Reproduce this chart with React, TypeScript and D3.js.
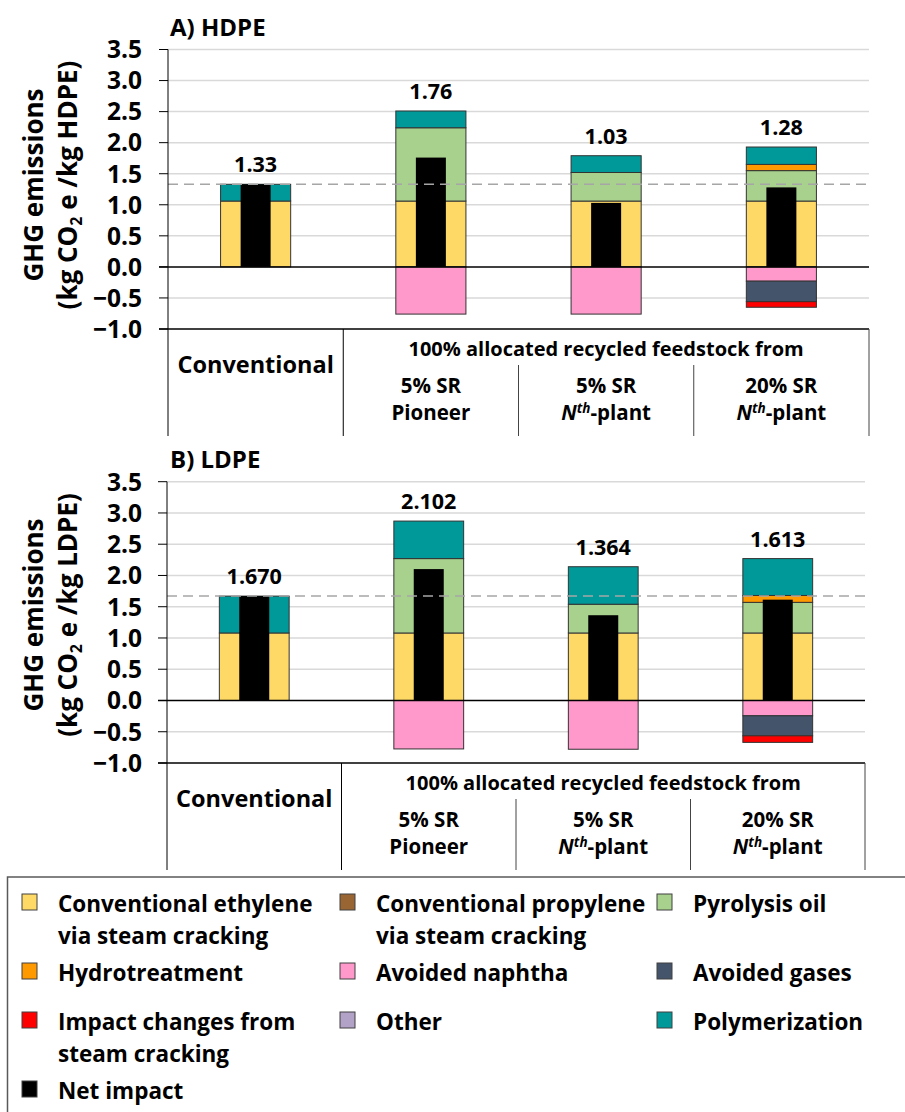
import React from "react";
import * as d3 from "d3";

// ---------- data ----------
const categories = ["Conventional", "5% SR Pioneer", "5% SR Nth-plant", "20% SR Nth-plant"];
const yTicks = [-1, -0.5, 0, 0.5, 1, 1.5, 2, 2.5, 3, 3.5];
const stackKeys = ["ethylene", "propylene", "pyrolysis", "hydro", "polymerization", "naphtha", "gases", "impact", "other"];

// HDPE (kg CO2e / kg HDPE)
const hdpeEthylene = [1.06, 1.06, 1.06, 1.06];
const hdpePropylene = [0, 0, 0, 0];
const hdpePyrolysis = [0, 1.18, 0.46, 0.49];
const hdpeHydro = [0, 0, 0, 0.1];
const hdpePolymerization = [0.27, 0.27, 0.27, 0.28];
const hdpeNaphtha = [0, -0.76, -0.76, -0.23];
const hdpeGases = [0, 0, 0, -0.33];
const hdpeImpact = [0, 0, 0, -0.09];
const hdpeOther = [0, 0, 0, 0];
const hdpeNet = [1.33, 1.76, 1.03, 1.28];

// LDPE (kg CO2e / kg LDPE)
const ldpeEthylene = [1.08, 1.08, 1.08, 1.08];
const ldpePropylene = [0, 0, 0, 0];
const ldpePyrolysis = [0, 1.19, 0.46, 0.49];
const ldpeHydro = [0, 0, 0, 0.11];
const ldpePolymerization = [0.59, 0.6, 0.6, 0.59];
const ldpeNaphtha = [0, -0.775, -0.78, -0.245];
const ldpeGases = [0, 0, 0, -0.32];
const ldpeImpact = [0, 0, 0, -0.105];
const ldpeOther = [0, 0, 0, 0];
const ldpeNet = [1.67, 2.102, 1.364, 1.613];

const legendLabels = [
  ["Conventional ethylene", "via steam cracking"],
  ["Conventional propylene", "via steam cracking"],
  ["Pyrolysis oil"],
  ["Hydrotreatment"],
  ["Avoided naphtha"],
  ["Avoided gases"],
  ["Impact changes from", "steam cracking"],
  ["Other"],
  ["Polymerization"],
  ["Net impact"],
];
const legendColors = ["#FFD966", "#996633", "#A9D18E", "#FF9900", "#FF99CC", "#44546A", "#FF0000", "#B3A2C7", "#009999", "#000000"];

const seriesColor: Record<string, string> = {
  ethylene: "#FFD966",
  propylene: "#996633",
  pyrolysis: "#A9D18E",
  hydro: "#FF9900",
  polymerization: "#009999",
  naphtha: "#FF99CC",
  gases: "#44546A",
  impact: "#FF0000",
  other: "#B3A2C7",
};

const FONT = "'Open Sans', sans-serif";

function buildRows(cols: number[][]) {
  return categories.map((c, i) => {
    const r: any = { cat: c };
    stackKeys.forEach((k, j) => (r[k] = cols[j][i]));
    return r;
  });
}

type PanelProps = {
  title: string;
  unit: string;
  rows: any[];
  net: number[];
  fmt: string;
  left: number;
  right: number;
  yBottom: number;
  yTop: number;
  titleY: number;
  labelCY: number;
};

function Panel(p: PanelProps) {
  const y = d3.scaleLinear().domain([-1, 3.5]).range([p.yBottom, p.yTop]);
  const x = d3
    .scaleBand<string>()
    .domain(categories)
    .range([p.left, p.right])
    .paddingInner(0.6)
    .paddingOuter(0.3);
  const step = x.step();
  const stack = d3
    .stack<any>()
    .keys(stackKeys)
    .offset(d3.stackOffsetDiverging)(p.rows);
  const format = d3.format(p.fmt);
  const netW = 30;
  const tableTop = y(-1);
  const b1 = p.left + step;
  const b2 = p.left + 2 * step;
  const b3 = p.left + 3 * step;
  const recyCx = (b1 + p.right) / 2;

  return (
    <g>
      <text x={170} y={p.titleY} fontFamily={FONT} fontWeight={700} fontSize={24} fill="#000">
        {p.title}
      </text>
      {/* y label */}
      <text
        transform={`translate(43,${p.labelCY}) rotate(-90)`}
        textAnchor="middle"
        fontFamily={FONT}
        fontWeight={700}
        fontSize={26}
      >
        GHG emissions
      </text>
      <text
        transform={`translate(77,${p.labelCY}) rotate(-90)`}
        textAnchor="middle"
        fontFamily={FONT}
        fontWeight={700}
        fontSize={26}
      >
        <tspan>(kg CO</tspan>
        <tspan fontSize={16} dy={5}>2</tspan>
        <tspan dy={-5}>{` e /kg ${p.unit})`}</tspan>
      </text>
      {/* grid */}
      {yTicks
        .filter((t) => t !== 0 && t !== -1)
        .map((t) => (
          <line key={t} x1={p.left} x2={p.right} y1={y(t)} y2={y(t)} stroke="#D9D9D9" strokeWidth={1.5} />
        ))}
      {/* ticks + labels */}
      {yTicks.map((t) => (
        <g key={"t" + t}>
          <line x1={p.left - 9} x2={p.left} y1={y(t)} y2={y(t)} stroke="#000" strokeWidth={1} />
          <text
            x={142}
            y={y(t)}
            dy="0.36em"
            textAnchor="end"
            fontFamily={FONT}
            fontWeight={700}
            fontSize={24.5}
          >
            {d3.format(".1f")(t)}
          </text>
        </g>
      ))}
      {/* stacked bars */}
      {stack.map((s) =>
        s.map((d, i) => {
          const v = d[1] - d[0];
          if (Math.abs(v) < 1e-9) return null;
          const cat = categories[i];
          const y0 = y(Math.max(d[0], d[1]));
          const y1 = y(Math.min(d[0], d[1]));
          return (
            <rect
              key={s.key + cat}
              x={x(cat)}
              y={y0}
              width={x.bandwidth()}
              height={y1 - y0}
              fill={seriesColor[s.key]}
              stroke="#333"
              strokeWidth={1}
            />
          );
        })
      )}
      {/* net impact */}
      {categories.map((c, i) => (
        <rect
          key={"net" + c}
          x={(x(c) as number) + x.bandwidth() / 2 - netW / 2}
          y={y(p.net[i])}
          width={netW}
          height={y(0) - y(p.net[i])}
          fill="#000"
        />
      ))}
      {/* value labels */}
      {categories.map((c, i) => {
        const top = d3.sum(stackKeys.map((k) => Math.max(0, p.rows[i][k])));
        return (
          <text
            key={"lab" + c}
            x={(x(c) as number) + x.bandwidth() / 2}
            y={y(top) - 12}
            textAnchor="middle"
            fontFamily={FONT}
            fontWeight={700}
            fontSize={21.5}
          >
            {format(p.net[i])}
          </text>
        );
      })}
      {/* zero line */}
      <line x1={p.left - 9} x2={p.right} y1={y(0)} y2={y(0)} stroke="#000" strokeWidth={1.5} />
      {/* reference dashed line */}
      <line
        x1={p.left}
        x2={p.right}
        y1={y(p.net[0])}
        y2={y(p.net[0])}
        stroke="#A6A6A6"
        strokeWidth={1.5}
        strokeDasharray="10,6"
      />
      {/* axis */}
      <line x1={p.left} x2={p.left} y1={p.yTop} y2={tableTop + 107} stroke="#000" strokeWidth={1} />
      <line x1={p.left - 9} x2={p.right} y1={tableTop} y2={tableTop} stroke="#000" strokeWidth={1.5} />
      {/* category table */}
      <line x1={b1} x2={b1} y1={tableTop} y2={tableTop + 107} stroke="#000" strokeWidth={1} />
      <line x1={p.right} x2={p.right} y1={tableTop} y2={tableTop + 107} stroke="#444" strokeWidth={1} />
      <line x1={b2} x2={b2} y1={tableTop + 36} y2={tableTop + 107} stroke="#444" strokeWidth={1} />
      <line x1={b3} x2={b3} y1={tableTop + 36} y2={tableTop + 107} stroke="#444" strokeWidth={1} />
      <text x={(p.left + b1) / 2} y={tableTop + 44} textAnchor="middle" fontFamily={FONT} fontWeight={700} fontSize={23.5}>
        Conventional
      </text>
      <text x={recyCx} y={tableTop + 27} textAnchor="middle" fontFamily={FONT} fontWeight={700} fontSize={20}>
        100% allocated recycled feedstock from
      </text>
      {[
        { cx: (b1 + b2) / 2, l1: "5% SR", nth: false, l2: "Pioneer" },
        { cx: (b2 + b3) / 2, l1: "5% SR", nth: true, l2: "-plant" },
        { cx: (b3 + p.right) / 2, l1: "20% SR", nth: true, l2: "-plant" },
      ].map((c, i) => (
        <g key={"sub" + i} fontFamily={FONT} fontWeight={700} fontSize={20.5}>
          <text x={c.cx} y={tableTop + 64} textAnchor="middle">
            {c.l1}
          </text>
          <text x={c.cx} y={tableTop + 91} textAnchor="middle">
            {c.nth ? (
              <>
                <tspan fontStyle="italic">N</tspan>
                <tspan fontStyle="italic" fontSize={13.5} dy={-7}>
                  th
                </tspan>
                <tspan dy={7}>{c.l2}</tspan>
              </>
            ) : (
              c.l2
            )}
          </text>
        </g>
      ))}
    </g>
  );
}

function Legend() {
  const colX = [22, 340, 657];
  const rowY = [912, 981, 1030, 1099];
  return (
    <g>
      <rect x={7.5} y={877} width={1000} height={400} fill="none" stroke="#595959" strokeWidth={1.5} />
      {legendLabels.map((lines, i) => {
        const cx = colX[i % 3];
        const cy = rowY[Math.floor(i / 3)];
        return (
          <g key={"lg" + i}>
            <rect x={cx} y={cy - 18} width={15} height={16} fill={legendColors[i]} stroke="#404040" strokeWidth={1} />
            <text x={cx + 36} y={cy} fontFamily={FONT} fontWeight={700} fontSize={22.5}>
              {lines.map((l, j) => (
                <tspan key={j} x={cx + 36} dy={j === 0 ? 0 : 32}>
                  {l}
                </tspan>
              ))}
            </text>
          </g>
        );
      })}
    </g>
  );
}

export default function App() {
  const hdpeRows = buildRows([
    hdpeEthylene,
    hdpePropylene,
    hdpePyrolysis,
    hdpeHydro,
    hdpePolymerization,
    hdpeNaphtha,
    hdpeGases,
    hdpeImpact,
    hdpeOther,
  ]);
  const ldpeRows = buildRows([
    ldpeEthylene,
    ldpePropylene,
    ldpePyrolysis,
    ldpeHydro,
    ldpePolymerization,
    ldpeNaphtha,
    ldpeGases,
    ldpeImpact,
    ldpeOther,
  ]);
  return (
    <svg
      width={905}
      height={1112}
      style={{ position: "absolute", left: 0, top: 0, background: "#fff" }}
    >
      <rect width={905} height={1112} fill="#fff" />
      <Panel
        title="A) HDPE"
        unit="HDPE"
        rows={hdpeRows}
        net={hdpeNet}
        fmt=".2f"
        left={168}
        right={869}
        yBottom={329}
        yTop={49.5}
        titleY={36}
        labelCY={185}
      />
      <Panel
        title="B) LDPE"
        unit="LDPE"
        rows={ldpeRows}
        net={ldpeNet}
        fmt=".3f"
        left={167}
        right={865}
        yBottom={763}
        yTop={481.7}
        titleY={468}
        labelCY={615}
      />
      <Legend />
    </svg>
  );
}
